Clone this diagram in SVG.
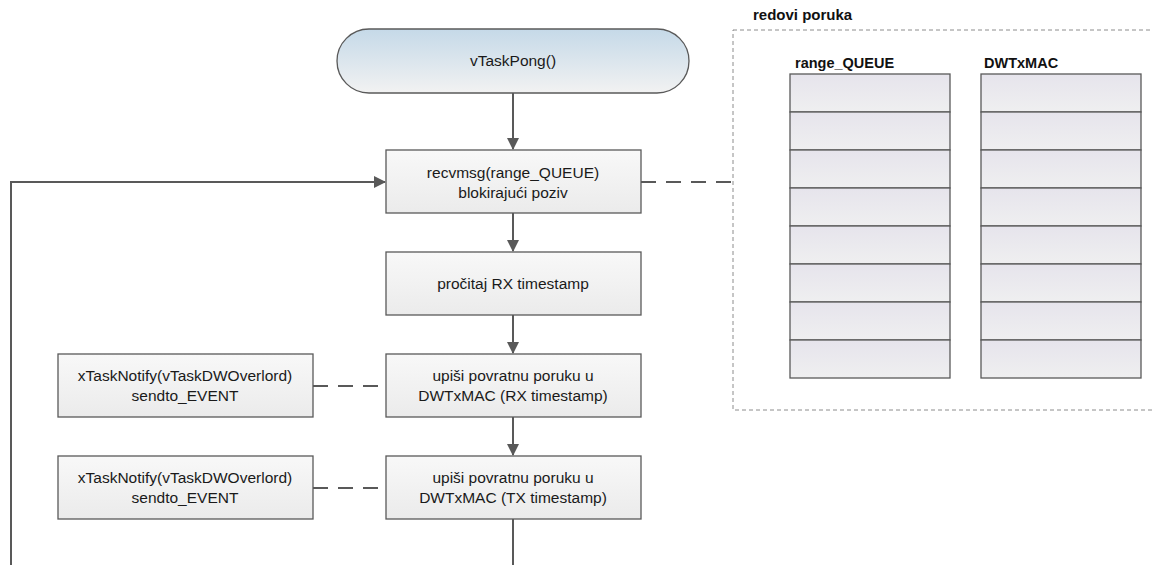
<svg xmlns="http://www.w3.org/2000/svg" width="1152" height="565" viewBox="0 0 1152 565">
<style>
.box{fill:url(#gBox);stroke:#595959;stroke-width:1.3}
.cell{fill:url(#gCell);stroke:#595959;stroke-width:1.3}
.t{font-family:"Liberation Sans",Arial,sans-serif;font-size:15.5px;fill:#1a1a1a;text-anchor:middle}
.h{font-family:"Liberation Sans",Arial,sans-serif;font-size:14.5px;font-weight:bold;fill:#111}
.conn{fill:none;stroke:#595959;stroke-width:2}
.dash{fill:none;stroke:#595959;stroke-width:2;stroke-dasharray:15 10}
</style>
<defs>
<linearGradient id="gBox" x1="0" y1="0" x2="0" y2="1"><stop offset="0" stop-color="#f8f8f8"/><stop offset="1" stop-color="#ebebeb"/></linearGradient>
<linearGradient id="gCell" x1="0" y1="0" x2="0" y2="1"><stop offset="0" stop-color="#e6e4ec"/><stop offset="1" stop-color="#efeff0"/></linearGradient>
<linearGradient id="gTerm" x1="0" y1="0" x2="0" y2="1"><stop offset="0" stop-color="#c5d9e8"/><stop offset="1" stop-color="#f2f2f2"/></linearGradient>
<marker id="arr" markerWidth="12" markerHeight="12" refX="11" refY="6" orient="auto" markerUnits="userSpaceOnUse"><path d="M0,0 L12,6 L0,12 z" fill="#595959"/></marker>
</defs>

<g id="connectors">
<path class="conn" d="M513,93 V149" marker-end="url(#arr)"/>
<path class="conn" d="M513,213 V251" marker-end="url(#arr)"/>
<path class="conn" d="M513,315 V353" marker-end="url(#arr)"/>
<path class="conn" d="M513,417 V455" marker-end="url(#arr)"/>
<path class="conn" d="M513,519 V565"/>
<path class="conn" d="M11,565 V182 H385" marker-end="url(#arr)"/>
<path class="dash" d="M641,182 H733"/>
<path class="dash" d="M313,386 H386"/>
<path class="dash" d="M313,488 H386"/>
</g>

<g id="start">
<rect x="337" y="29" width="352" height="64" rx="32" fill="url(#gTerm)" stroke="#595959" stroke-width="1.3"/>
<text class="t" x="513" y="66">vTaskPong()</text>
</g>

<g id="recvmsg">
<rect class="box" x="386" y="150" width="255" height="63"/>
<text class="t" x="513" y="178">recvmsg(range_QUEUE)</text>
<text class="t" x="513" y="198">blokirajući poziv</text>
</g>

<g id="procitaj">
<rect class="box" x="386" y="252" width="255" height="63"/>
<text class="t" x="513" y="289">pročitaj RX timestamp</text>
</g>

<g id="upisi-rx">
<rect class="box" x="386" y="354" width="255" height="63"/>
<text class="t" x="513" y="381">upiši povratnu poruku u</text>
<text class="t" x="513" y="401">DWTxMAC (RX timestamp)</text>
</g>

<g id="upisi-tx">
<rect class="box" x="386" y="456" width="255" height="63"/>
<text class="t" x="513" y="483">upiši povratnu poruku u</text>
<text class="t" x="513" y="503">DWTxMAC (TX timestamp)</text>
</g>

<g id="notify1">
<rect class="box" x="58" y="354" width="255" height="63"/>
<text class="t" x="185" y="381">xTaskNotify(vTaskDWOverlord)</text>
<text class="t" x="185" y="401">sendto_EVENT</text>
</g>

<g id="notify2">
<rect class="box" x="58" y="456" width="255" height="63"/>
<text class="t" x="185" y="483">xTaskNotify(vTaskDWOverlord)</text>
<text class="t" x="185" y="503">sendto_EVENT</text>
</g>

<g id="redovi-poruka">
<rect x="733" y="30" width="450" height="380" fill="none" stroke="#8c8c8c" stroke-width="1" stroke-dasharray="4 3"/>
<text class="h" x="753" y="20" style="font-size:15px">redovi poruka</text>
</g>

<g id="range_QUEUE">
<text class="h" x="795" y="68">range_QUEUE</text>
<rect class="cell" x="790" y="74" width="160" height="38"/>
<rect class="cell" x="790" y="112" width="160" height="38"/>
<rect class="cell" x="790" y="150" width="160" height="38"/>
<rect class="cell" x="790" y="188" width="160" height="38"/>
<rect class="cell" x="790" y="226" width="160" height="38"/>
<rect class="cell" x="790" y="264" width="160" height="38"/>
<rect class="cell" x="790" y="302" width="160" height="38"/>
<rect class="cell" x="790" y="340" width="160" height="38"/>
</g>

<g id="DWTxMAC">
<text class="h" x="984" y="68">DWTxMAC</text>
<rect class="cell" x="981" y="74" width="160" height="38"/>
<rect class="cell" x="981" y="112" width="160" height="38"/>
<rect class="cell" x="981" y="150" width="160" height="38"/>
<rect class="cell" x="981" y="188" width="160" height="38"/>
<rect class="cell" x="981" y="226" width="160" height="38"/>
<rect class="cell" x="981" y="264" width="160" height="38"/>
<rect class="cell" x="981" y="302" width="160" height="38"/>
<rect class="cell" x="981" y="340" width="160" height="38"/>
</g>
</svg>
